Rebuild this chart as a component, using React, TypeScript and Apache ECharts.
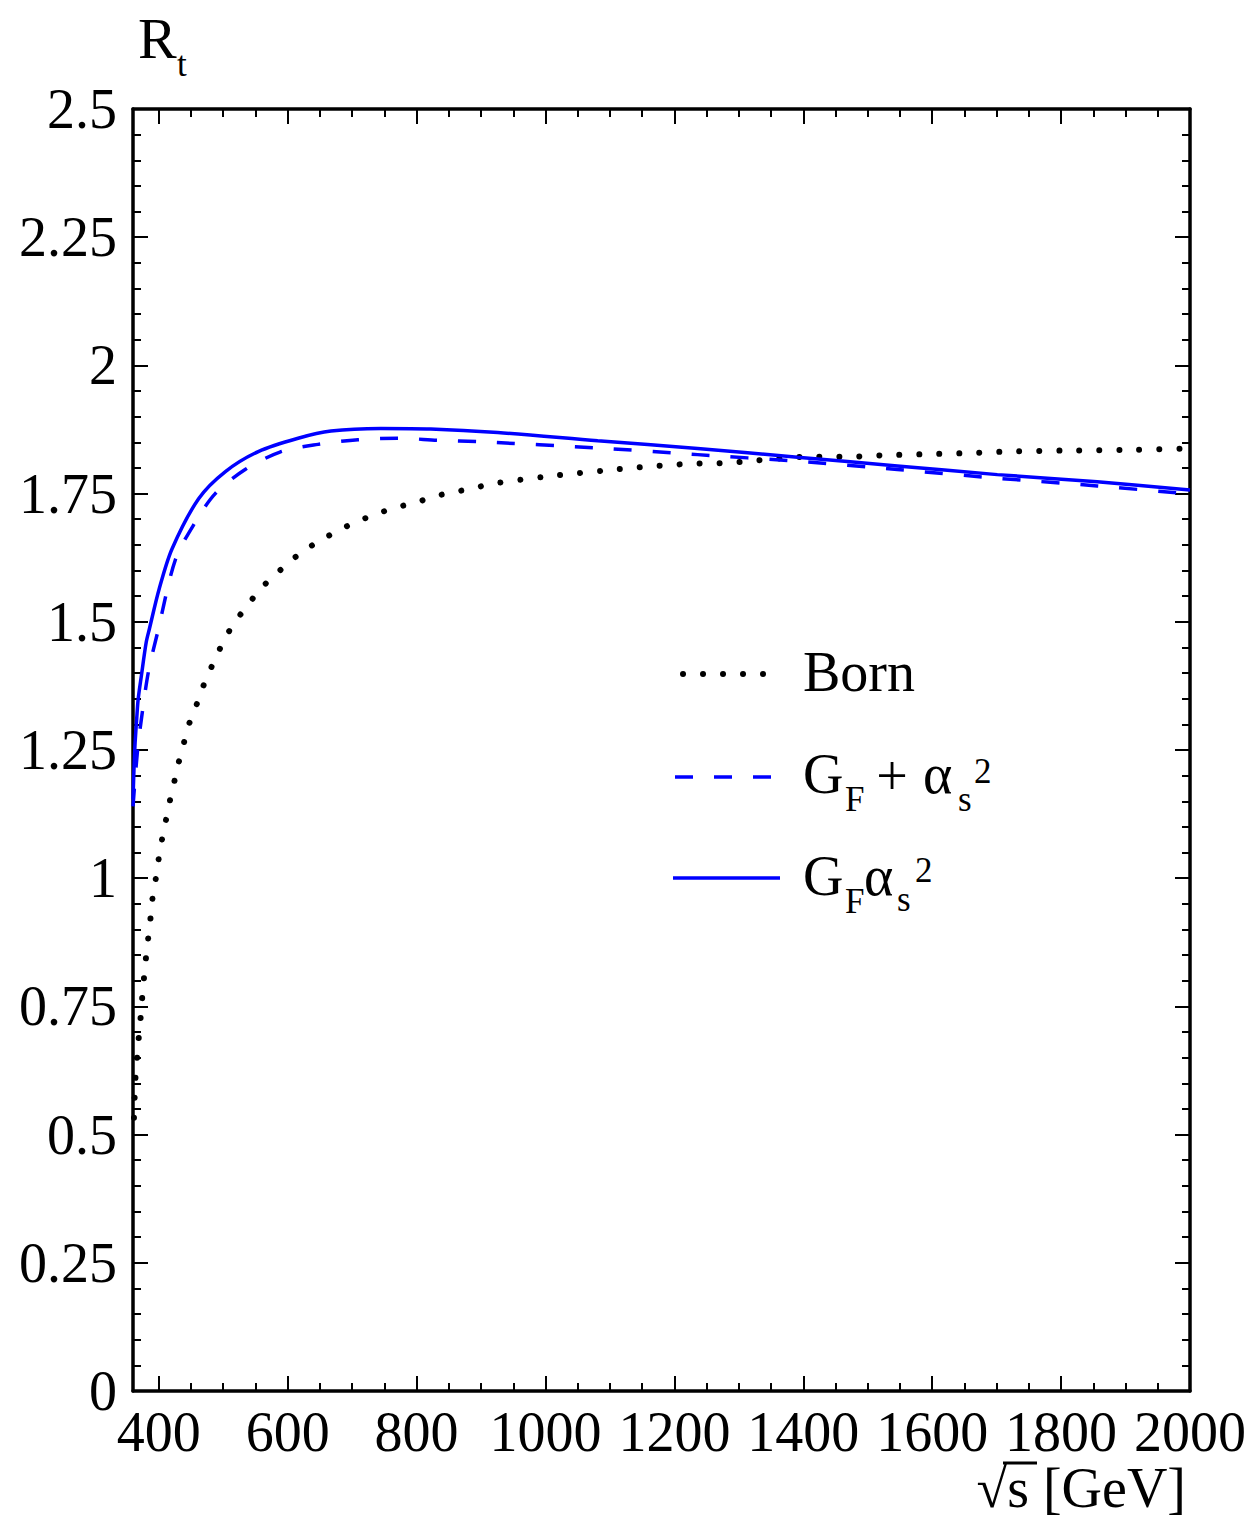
import React, { useEffect, useRef } from 'react';
import * as echarts from 'echarts';

// ---- data ----
const bornX = [361.5, 363.7, 366.2, 368.7, 371.6, 374, 376.7, 379.7, 383.2, 386.7, 389.6, 394.6, 399, 404, 410, 416, 423, 429.7, 437.7, 445, 456, 466.6, 479, 491, 505, 522, 540, 560, 582, 604, 629, 657, 683, 711, 739, 768.5, 799.5, 829, 858.5, 889.5, 917, 1000, 1099.6, 1161.6, 1223.5, 1285.5, 1347.5, 1407, 1469, 1531, 1593, 1655, 1717, 1807, 1900, 2000];
const bornY = [0.533, 0.608, 0.648, 0.686, 0.725, 0.763, 0.801, 0.84, 0.879, 0.916, 0.955, 0.993, 1.031, 1.069, 1.106, 1.144, 1.182, 1.22, 1.257, 1.294, 1.329, 1.367, 1.404, 1.437, 1.473, 1.506, 1.536, 1.567, 1.593, 1.618, 1.642, 1.663, 1.681, 1.697, 1.711, 1.723, 1.733, 1.745, 1.753, 1.761, 1.769, 1.783, 1.796, 1.803, 1.808, 1.81, 1.817, 1.822, 1.822, 1.825, 1.827, 1.829, 1.832, 1.834, 1.835, 1.838];

const sumX = [360, 367, 374.4, 384, 398.3, 426, 457, 487.6, 534, 588, 647, 709, 771, 833, 900, 1081, 1236, 1391, 1546, 1701, 1856, 2000];
const sumY = [1.14, 1.249, 1.323, 1.403, 1.48, 1.622, 1.695, 1.75, 1.797, 1.831, 1.846, 1.855, 1.858, 1.854, 1.851, 1.839, 1.826, 1.813, 1.797, 1.78, 1.765, 1.749];

const prodX = [360, 361.9, 363.3, 365.7, 368, 373, 380.5, 385.4, 400.6, 420.5, 461.8, 503.4, 554.4, 616.2, 667.2, 744.6, 822, 926, 1081, 1236, 1391, 1546, 1701, 1856, 2000];
const prodY = [1.154, 1.226, 1.265, 1.31, 1.349, 1.395, 1.46, 1.486, 1.564, 1.642, 1.74, 1.793, 1.832, 1.858, 1.872, 1.877, 1.876, 1.869, 1.853, 1.838, 1.821, 1.804, 1.787, 1.773, 1.757];

const xTickValues = [400, 600, 800, 1000, 1200, 1400, 1600, 1800, 2000];
const xTickLabels = ['400', '600', '800', '1000', '1200', '1400', '1600', '1800', '2000'];
const xMinorTickValues = [400, 450, 500, 550, 600, 650, 700, 750, 800, 850, 900, 950, 1000, 1050, 1100, 1150, 1200, 1250, 1300, 1350, 1400, 1450, 1500, 1550, 1600, 1650, 1700, 1750, 1800, 1850, 1900, 1950, 2000];
const yTickLabels = ['0', '0.25', '0.5', '0.75', '1', '1.25', '1.5', '1.75', '2', '2.25', '2.5'];

const FONT = '"Liberation Serif", "Times New Roman", serif';

function txt(text: string, x: number, y: number, size: number, align = 'left') {
  return {
    type: 'text',
    x,
    y,
    silent: true,
    style: {
      text,
      fontSize: size,
      fontFamily: FONT,
      fill: '#000',
      align,
      textAlign: align,
      verticalAlign: 'middle',
      textVerticalAlign: 'middle',
    },
  };
}

export default function App() {
  const ref = useRef<HTMLDivElement>(null);
  useEffect(() => {
    const chart = echarts.init(ref.current!, undefined, { renderer: 'svg' });
    const axisCommon = {
      type: 'value',
      splitLine: { show: false },
      axisLine: { show: true, lineStyle: { color: '#000', width: 3.5 } },
    };
    const tickStyle = { color: '#000', width: 2 };
    const xBase = { ...axisCommon, min: 360, max: 2000 };
    const yBase = {
      ...axisCommon,
      min: 0,
      max: 2.5,
      interval: 0.25,
      axisTick: { show: true, inside: true, length: 15, lineStyle: tickStyle },
      minorTick: { show: true, splitNumber: 5, length: 8, lineStyle: tickStyle },
      minorSplitLine: { show: false },
    };
    const option = {
      animation: false,
      backgroundColor: '#fff',
      grid: { left: 133, top: 109, width: 1057, height: 1282, containLabel: false },
      xAxis: [
        {
          ...xBase,
          position: 'bottom',
          axisTick: { show: true, inside: true, length: 15, lineStyle: tickStyle, customValues: xTickValues },
          axisLabel: {
            show: true,
            customValues: xTickValues,
            margin: 13,
            fontSize: 56,
            fontFamily: FONT,
            color: '#000',
            formatter: (v: number) => {
              const i = xTickValues.indexOf(v);
              return i >= 0 ? xTickLabels[i] : String(v);
            },
          },
        },
        {
          ...xBase,
          position: 'bottom',
          axisLine: { show: false },
          axisTick: { show: true, inside: true, length: 8, lineStyle: tickStyle, customValues: xMinorTickValues },
          axisLabel: { show: false },
        },
        {
          ...xBase,
          position: 'top',
          axisTick: { show: true, inside: true, length: 15, lineStyle: tickStyle, customValues: xTickValues },
          axisLabel: { show: false },
        },
        {
          ...xBase,
          position: 'top',
          axisLine: { show: false },
          axisTick: { show: true, inside: true, length: 8, lineStyle: tickStyle, customValues: xMinorTickValues },
          axisLabel: { show: false },
        },
      ],
      yAxis: [
        {
          ...yBase,
          position: 'left',
          axisLabel: {
            show: true,
            margin: 16,
            fontSize: 56,
            fontFamily: FONT,
            color: '#000',
            formatter: (v: number) => yTickLabels[Math.round(v / 0.25)] ?? String(v),
          },
        },
        { ...yBase, position: 'right', axisLabel: { show: false } },
      ],
      series: [
        {
          name: 'Born',
          type: 'line',
          symbol: 'none',
          smooth: 0.3,
          data: bornX.map((x, i) => [x, bornY[i]]),
          lineStyle: { color: '#000', width: 6, type: [0.01, 19.99], cap: 'round' },
          z: 3,
        },
        {
          name: 'GF + as2',
          type: 'line',
          symbol: 'none',
          smooth: 0.3,
          data: sumX.map((x, i) => [x, sumY[i]]),
          lineStyle: { color: '#0000ff', width: 3.5, type: [18, 21] },
          z: 4,
        },
        {
          name: 'GF as2',
          type: 'line',
          symbol: 'none',
          smooth: 0.3,
          data: prodX.map((x, i) => [x, prodY[i]]),
          lineStyle: { color: '#0000ff', width: 3.5 },
          z: 5,
        },
      ],
      graphic: [
        // legend samples
        {
          type: 'line',
          silent: true,
          shape: { x1: 683, y1: 674, x2: 763, y2: 674 },
          style: { stroke: '#000', lineWidth: 6, lineDash: [0.01, 19.99], lineCap: 'round' },
        },
        {
          type: 'line',
          silent: true,
          shape: { x1: 675, y1: 777, x2: 773, y2: 777 },
          style: { stroke: '#0000ff', lineWidth: 3.5, lineDash: [18, 21] },
        },
        {
          type: 'line',
          silent: true,
          shape: { x1: 673, y1: 878, x2: 780, y2: 878 },
          style: { stroke: '#0000ff', lineWidth: 3.5 },
        },
        // legend texts
        txt('Born', 803, 672, 56),
        txt('G', 803, 774, 56),
        txt('F', 845, 799, 35),
        txt('+', 892, 776, 56, 'center'),
        txt('α', 923, 774, 56),
        txt('s', 958, 799, 35),
        txt('2', 974, 771, 35),
        txt('G', 803, 876, 56),
        txt('F', 845, 901, 35),
        txt('α', 864, 876, 56),
        txt('s', 897, 899, 35),
        txt('2', 915, 870, 35),
        // axis titles
        txt('R', 138, 38, 58),
        txt('t', 177, 64, 35),
        txt('√s [GeV]', 1186, 1488, 56, 'right'),
        {
          type: 'line',
          silent: true,
          shape: { x1: 1003, y1: 1463, x2: 1037, y2: 1463 },
          style: { stroke: '#000', lineWidth: 3 },
        },
      ],
    };
    chart.setOption(option as any);
    return () => chart.dispose();
  }, []);
  return (
    <div
      ref={ref}
      style={{ position: 'absolute', left: 0, top: 0, width: 1250, height: 1528, background: '#fff' }}
    />
  );
}
